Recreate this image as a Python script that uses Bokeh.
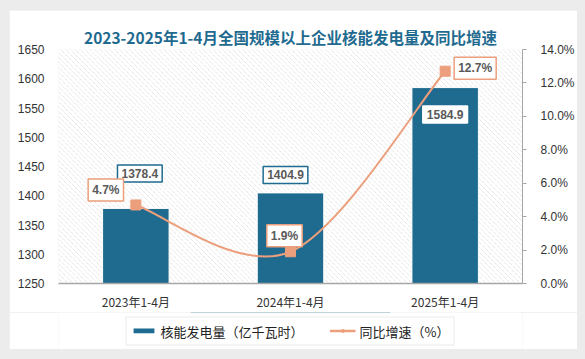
import numpy as np
from bokeh.plotting import figure
from bokeh.layouts import column
from bokeh.models import (Range1d, LinearAxis, FixedTicker, PrintfTickFormatter,
                          Label, Legend, LegendItem, ColumnDataSource)
from bokeh.embed import file_html
from bokeh.resources import INLINE

# ---- data ----
categories = ["2023年1-4月", "2024年1-4月", "2025年1-4月"]
generation = [1378.4, 1404.9, 1584.9]      # 核能发电量（亿千瓦时）
growth = [4.7, 1.9, 12.7]                   # 同比增速（%）
title_text = "2023-2025年1-4月全国规模以上企业核能发电量及同比增速"
bar_name = "核能发电量（亿千瓦时）"
line_name = "同比增速（%）"

# ---- styles ----
BAR_COLOR = "#1f6b8f"
LINE_COLOR = "#ec9f7c"
TITLE_COLOR = "#1f6b8f"
TEXT_COLOR = "#333333"
LABEL_COLOR = "#595959"
CJK = "Noto Sans CJK SC"
NUM = "Liberation Sans"

xs = [i + 0.5 for i in range(len(categories))]
y_lo, y_hi = 1250, 1650
W, H = 568, 302
MB_L, MB_R, MB_T, MB_B = 49, 47, 39, 25

p = figure(width=W, height=H, output_backend="svg", toolbar_location=None,
           x_range=Range1d(0, 3), y_range=Range1d(y_lo, y_hi),
           min_border_left=MB_L, min_border_right=MB_R, min_border_top=MB_T,
           min_border_bottom=MB_B)
p.extra_y_ranges = {"pct": Range1d(0, 14)}
p.background_fill_color = "white"
p.border_fill_color = "white"
p.outline_line_color = None
p.grid.visible = False

# title
p.title.text = title_text
p.title.align = "center"
p.title.text_font = CJK
p.title.text_font_style = "bold"
p.title.text_font_size = "15.5px"
p.title.text_color = TITLE_COLOR
p.title.standoff = 4

# diagonal hatch texture of the plot background (decorative)
fw, fh = W - MB_L - MB_R, H - MB_T - MB_B
ux = 3 / fw
starts = np.arange(-fh * ux, 3 + 5 * ux, 5 * ux)
p.multi_line(xs=[[s, s + fh * ux] for s in starts],
             ys=[[y_hi, y_lo] for _ in starts],
             line_color="#d6d6d6", line_width=1, line_dash="1 1", level="underlay")

# axes
ax = p.xaxis[0]
ax.ticker = FixedTicker(ticks=xs)
ax.major_label_overrides = {x: c for x, c in zip(xs, categories)}
ax.major_tick_line_color = None
ax.minor_tick_line_color = None
ax.axis_line_color = "#a6a6a6"
ax.axis_line_width = 1.5
ax.major_label_text_font = CJK
ax.major_label_text_font_size = "12px"
ax.major_label_text_color = TEXT_COLOR
ax.major_label_standoff = 3

ay = p.yaxis[0]
ay.ticker = FixedTicker(ticks=list(range(y_lo, y_hi + 1, 50)))
ay.axis_line_color = None
ay.major_tick_line_color = None
ay.minor_tick_line_color = None
ay.major_label_text_font = NUM
ay.major_label_text_font_size = "12px"
ay.major_label_text_color = TEXT_COLOR
ay.major_label_standoff = 8

ar = LinearAxis(y_range_name="pct", ticker=FixedTicker(ticks=list(range(0, 15, 2))),
                formatter=PrintfTickFormatter(format="%.1f%%"))
ar.axis_line_color = "#a6a6a6"
ar.major_tick_line_color = "#a6a6a6"
ar.major_tick_in = 0
ar.major_tick_out = 4
ar.minor_tick_line_color = None
ar.major_label_text_font = NUM
ar.major_label_text_font_size = "12px"
ar.major_label_text_color = TEXT_COLOR
ar.major_label_standoff = 14
p.add_layout(ar, "right")

# bars
src = ColumnDataSource(dict(x=xs, top=generation))
p.vbar(x="x", top="top", bottom=y_lo, width=0.43, source=src,
       fill_color=BAR_COLOR, line_color="white", line_width=1)

# smoothed growth line (Catmull-Rom bezier through the data points)
pts = list(zip(xs, growth))
x0, y0, x1, y1, cx0, cy0, cx1, cy1 = ([] for _ in range(8))
for i in range(len(pts) - 1):
    pa = pts[i - 1] if i > 0 else pts[i]
    pb, pc = pts[i], pts[i + 1]
    pd = pts[i + 2] if i + 2 < len(pts) else pts[i + 1]
    x0.append(pb[0]); y0.append(pb[1]); x1.append(pc[0]); y1.append(pc[1])
    cx0.append(pb[0] + (pc[0] - pa[0]) / 6); cy0.append(pb[1] + (pc[1] - pa[1]) / 6)
    cx1.append(pc[0] - (pd[0] - pb[0]) / 6); cy1.append(pc[1] - (pd[1] - pb[1]) / 6)
p.bezier(x0=x0, y0=y0, x1=x1, y1=y1, cx0=cx0, cy0=cy0, cx1=cx1, cy1=cy1,
         y_range_name="pct", line_color=LINE_COLOR, line_width=2)
p.scatter(x=xs, y=growth, y_range_name="pct", marker="square", size=10,
          fill_color=LINE_COLOR, line_color=LINE_COLOR)

# data labels
bar_offsets = [(4, 35), (-5, 18), (0, -27)]
bar_borders = [BAR_COLOR, BAR_COLOR, "white"]
for x, v, (dx, dy), bc in zip(xs, generation, bar_offsets, bar_borders):
    p.add_layout(Label(x=x, y=v, x_offset=dx, y_offset=dy, text=f"{v:.1f}",
                       text_align="center", text_baseline="middle",
                       text_font=NUM, text_font_style="bold", text_font_size="12px",
                       text_color=LABEL_COLOR, background_fill_color="white",
                       border_line_color=bc, border_line_width=1.5, padding=4))
pct_offsets = [(-30, 15), (-6, 16), (30, 3)]
for x, v, (dx, dy) in zip(xs, growth, pct_offsets):
    p.add_layout(Label(x=x, y=v, x_offset=dx, y_offset=dy, y_range_name="pct",
                       text=f"{v:.1f}%", text_align="center", text_baseline="middle",
                       text_font=NUM, text_font_style="bold", text_font_size="12px",
                       text_color=LABEL_COLOR, background_fill_color="white",
                       border_line_color=LINE_COLOR, border_line_width=1.5, padding=4))

# legend strip (separate small figure below the chart; its glyphs lie out of view)
lf = figure(width=W, height=37, output_backend="svg", toolbar_location=None,
            x_range=Range1d(0, 1), y_range=Range1d(-1, 0),
            x_axis_type=None, y_axis_type=None,
            min_border_left=0, min_border_right=0, min_border_top=0, min_border_bottom=0)
lf.grid.visible = False
lf.outline_line_color = None
lf.background_fill_color = "white"
lf.border_fill_color = "white"
lg_bar = lf.vbar(x=xs, top=generation, bottom=y_lo, width=0.43,
                 fill_color=BAR_COLOR, line_alpha=0)
lg_line = lf.line(x=xs, y=growth, line_color=LINE_COLOR, line_width=2.5)
lg_pt = lf.scatter(x=xs, y=growth, marker="square", size=10,
                   fill_color=LINE_COLOR, line_color=LINE_COLOR)
legend = Legend(items=[LegendItem(label=bar_name, renderers=[lg_bar]),
                       LegendItem(label=line_name, renderers=[lg_line, lg_pt])],
                orientation="horizontal", location="center", margin=0,
                border_line_color="#d9d9d9", border_line_width=1.5,
                background_fill_color="white", padding=4, spacing=26,
                glyph_width=26, glyph_height=6, label_height=16,
                label_text_font=CJK, label_text_font_size="13px",
                label_text_color="#222222", label_standoff=4)
lf.add_layout(legend, "center")

layout = column(p, lf, spacing=0)

html = file_html(layout, INLINE)
head_end = html.rfind("</head>")
b = html.find("<body", head_end)
if b != -1:
    close = html.find(">", b)
    html = (html[:close] +
            ' style="background:#ececec;margin:0;padding:10px 0 0 9px;box-sizing:border-box;"' +
            html[close:])
open("out.html", "w").write(html)
